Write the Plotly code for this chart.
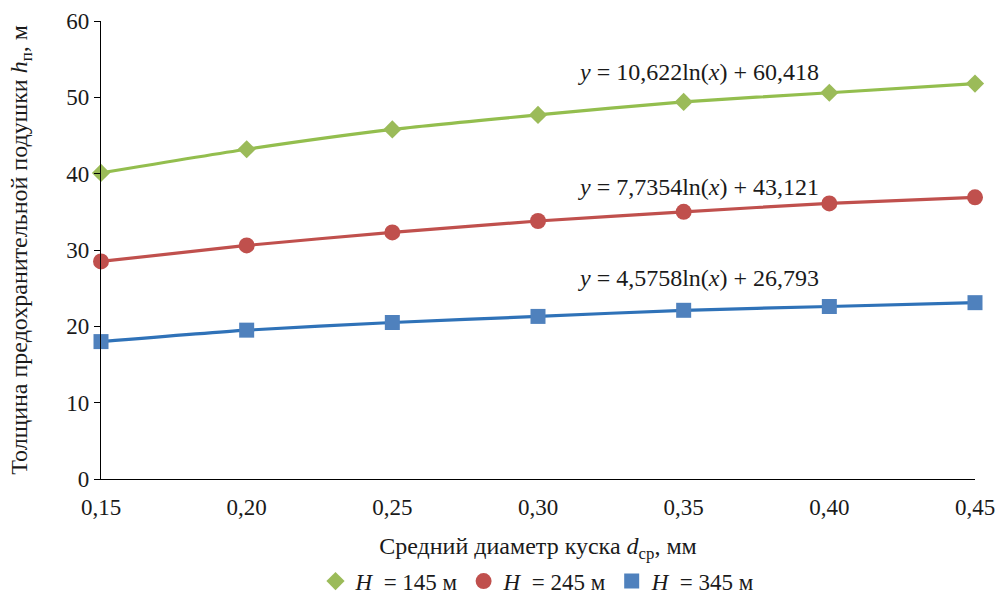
import plotly.graph_objects as go

x_vals = [0.15, 0.20, 0.25, 0.30, 0.35, 0.40, 0.45]
h145 = [40.1, 43.2, 45.8, 47.7, 49.4, 50.6, 51.8]
h245 = [28.5, 30.6, 32.3, 33.8, 35.0, 36.1, 36.9]
h345 = [18.0, 19.5, 20.5, 21.3, 22.1, 22.6, 23.1]
series_names = ["<i>H</i>  = 145 м", "<i>H</i>  = 245 м", "<i>H</i>  = 345 м"]
equations = ["<i>y</i> = 10,622ln(<i>x</i>) + 60,418",
             "<i>y</i> = 7,7354ln(<i>x</i>) + 43,121",
             "<i>y</i> = 4,5758ln(<i>x</i>) + 26,793"]
eq_pos = [(0.355, 53.3), (0.355, 38.3), (0.355, 26.3)]

FONT = "Liberation Serif"
TXT = "#1a1a1a"

fig = go.Figure()
styles = [
    (h145, "#9BBB59", "#93BE4E", "diamond", 14),
    (h245, "#C0504D", "#C0504D", "circle", 16),
    (h345, "#4F81BD", "#2F72B8", "square", 15),
]
for (vals, mcol, lcol, sym, size), name in zip(styles, series_names):
    fig.add_trace(go.Scatter(
        x=x_vals, y=vals, mode="lines", showlegend=False, hoverinfo="skip",
        line=dict(color=lcol, width=3.2, shape="spline", smoothing=0.6),
        cliponaxis=False,
    ))
    fig.add_trace(go.Scatter(
        x=x_vals, y=vals, name=name, mode="markers",
        marker=dict(color=mcol, symbol=sym, size=size),
        cliponaxis=False,
    ))

for eq, (ex, ey) in zip(equations, eq_pos):
    fig.add_annotation(x=ex, y=ey, text=eq, showarrow=False,
                       font=dict(family=FONT, size=24, color=TXT))

fig.update_layout(
    width=997, height=596,
    paper_bgcolor="white", plot_bgcolor="white",
    separators=", ",
    font=dict(family=FONT, size=23, color=TXT),
    margin=dict(l=101, r=22, t=21, b=117, autoexpand=False),
    showlegend=True,
    legend=dict(orientation="h", x=0.5, xanchor="center", y=-0.223, yanchor="middle",
                font=dict(family=FONT, size=23, color=TXT), itemwidth=30, tracegroupgap=0),
    xaxis=dict(range=[0.15, 0.45], tickvals=x_vals, tickformat=".2f",
               showgrid=False, zeroline=False, showline=True, linecolor="black", linewidth=1.3,
               ticks="outside", ticklen=7, tickcolor="rgba(0,0,0,0)",
               tickfont=dict(family=FONT, size=23, color=TXT),
               automargin=False,
               title=dict(text="Средний диаметр куска <i>d</i><sub>ср</sub>, мм",
                          font=dict(family=FONT, size=24, color=TXT), standoff=18)),
    yaxis=dict(range=[0, 60], dtick=10, showgrid=False, zeroline=False,
               showline=True, linecolor="black", linewidth=1.3,
               ticks="outside", ticklen=6, tickcolor="black",
               tickfont=dict(family=FONT, size=23, color=TXT),
               automargin=False,
               title=dict(text="Толщина предохранительной подушки <i>h</i><sub>п</sub>, м",
                          font=dict(family=FONT, size=24, color=TXT), standoff=31)),
)

fig.write_html("out.html", config={"displayModeBar": False},
               post_script="document.body.style.margin='0';")
